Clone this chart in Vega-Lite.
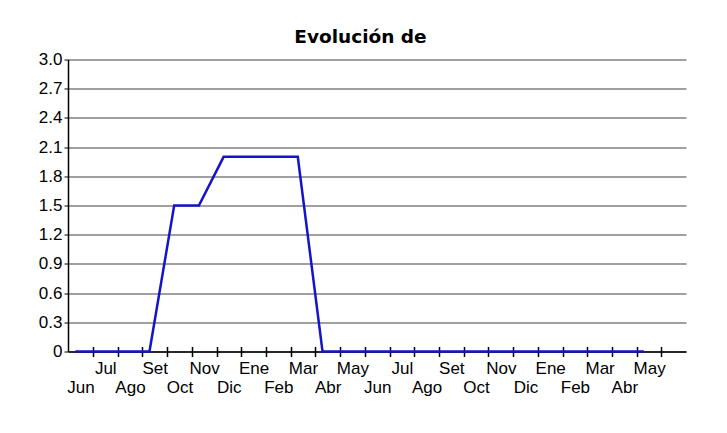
{
  "$schema": "https://vega.github.io/schema/vega-lite/v6.json",
  "width": 618,
  "height": 292,
  "autosize": "none",
  "padding": {"left": 68, "top": 59.5, "right": 41, "bottom": 81.5},
  "background": "white",
  "config": {"view": {"stroke": null}},
  "title": {
    "text": "Evolución de",
    "font": "DejaVu Sans",
    "fontSize": 18.5,
    "fontWeight": "bold",
    "color": "#000000",
    "anchor": "middle",
    "dx": -16.5,
    "dy": 24,
    "offset": 13,
    "baseline": "alphabetic"
  },
  "data": {
    "values": [
      {"mes": "Jun 2009", "valor": 0},
      {"mes": "Jul 2009", "valor": 0},
      {"mes": "Ago 2009", "valor": 0},
      {"mes": "Set 2009", "valor": 0},
      {"mes": "Oct 2009", "valor": 1.5},
      {"mes": "Nov 2009", "valor": 1.5},
      {"mes": "Dic 2009", "valor": 2.0},
      {"mes": "Ene 2010", "valor": 2.0},
      {"mes": "Feb 2010", "valor": 2.0},
      {"mes": "Mar 2010", "valor": 2.0},
      {"mes": "Abr 2010", "valor": 0},
      {"mes": "May 2010", "valor": 0},
      {"mes": "Jun 2010", "valor": 0},
      {"mes": "Jul 2010", "valor": 0},
      {"mes": "Ago 2010", "valor": 0},
      {"mes": "Set 2010", "valor": 0},
      {"mes": "Oct 2010", "valor": 0},
      {"mes": "Nov 2010", "valor": 0},
      {"mes": "Dic 2010", "valor": 0},
      {"mes": "Ene 2011", "valor": 0},
      {"mes": "Feb 2011", "valor": 0},
      {"mes": "Mar 2011", "valor": 0},
      {"mes": "Abr 2011", "valor": 0},
      {"mes": "May 2011", "valor": 0}
    ]
  },
  "resolve": {"axis": {"x": "independent"}},
  "layer": [
    {
      "mark": {"type": "line", "color": "#1414c8", "strokeWidth": 2.5},
      "encoding": {
        "x": {
          "field": "mes",
          "type": "ordinal",
          "sort": null,
          "scale": {"type": "point", "padding": 1.056, "align": 0.148},
          "axis": {
            "orient": "bottom",
            "title": null,
            "grid": false,
            "domainColor": "#000000",
            "domainWidth": 1.5,
            "tickColor": "#000000",
            "tickWidth": 1.5,
            "tickSize": 5,
            "tickOffset": 17.6,
            "labelOffset": -12.4,
            "labelPadding": 4,
            "labelFont": "Liberation Sans",
            "labelFontSize": 17,
            "labelColor": "#000000",
            "labelAngle": 0,
            "labelLineHeight": 19,
            "labelOverlap": false,
            "labelBound": false,
            "labelExpr": "round(datum.index*23)%2==0 ? ['', slice(datum.value,0,3)] : slice(datum.value,0,3)"
          }
        },
        "y": {
          "field": "valor",
          "type": "quantitative",
          "scale": {"domain": [0, 3], "nice": false, "zero": true},
          "axis": {
            "title": null,
            "values": [0, 0.3, 0.6, 0.9, 1.2, 1.5, 1.8, 2.1, 2.4, 2.7, 3.0],
            "labelExpr": "datum.value == 0 ? '0' : format(datum.value, '.1f')",
            "labelOverlap": false,
            "labelBound": false,
            "grid": true,
            "gridColor": "#808080",
            "gridWidth": 1.5,
            "domainColor": "#000000",
            "domainWidth": 1.5,
            "tickColor": "#000000",
            "tickSize": 4,
            "labelPadding": 2,
            "labelFont": "Liberation Sans",
            "labelFontSize": 17,
            "labelColor": "#000000"
          }
        }
      }
    },
    {
      "mark": {"type": "point", "opacity": 0},
      "encoding": {
        "x": {
          "field": "mes",
          "type": "ordinal",
          "sort": null,
          "axis": {
            "orient": "top",
            "offset": -292,
            "title": null,
            "grid": false,
            "domain": false,
            "labels": false,
            "ticks": true,
            "tickColor": "#000000",
            "tickWidth": 1.5,
            "tickSize": 5,
            "tickOffset": 17.6
          }
        }
      }
    }
  ]
}
